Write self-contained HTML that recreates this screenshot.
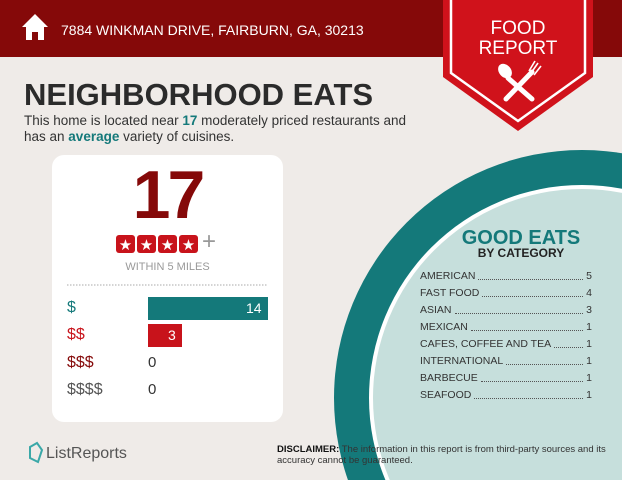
<!DOCTYPE html>
<html><head><style>
html,body{margin:0;width:622px;height:480px;overflow:hidden}
body{background:#efebe8;font-family:"Liberation Sans",sans-serif;position:relative}
.abs{position:absolute}
</style></head><body>
<svg class="abs" style="left:0;top:0" width="622" height="480">
<rect x="0" y="0" width="622" height="57" fill="#850909"/>
<circle cx="582" cy="398" r="248" fill="#14797a"/>
<circle cx="582" cy="398" r="213" fill="#fff"/>
<circle cx="582" cy="398" r="209" fill="#c6dfdc"/>
<polygon points="443,0 593,0 593,77 518,131 443,77" fill="#d0121b"/>
<polyline points="451,0 451,73 518,121 585,73 585,0" fill="none" stroke="#fff" stroke-width="2.5"/>
<g stroke="#fff" stroke-width="5" stroke-linecap="round">
<line x1="508" y1="78" x2="532" y2="99"/>
<line x1="532" y1="72" x2="506" y2="99"/>
</g>
<ellipse cx="505" cy="71" rx="6" ry="8" fill="#fff" transform="rotate(-40 505 71)"/>
<g stroke="#fff" stroke-width="1.6"><line x1="531" y1="73" x2="538" y2="63"/><line x1="534" y1="75" x2="541" y2="66"/><line x1="529" y1="71" x2="535" y2="61"/></g>
<path d="M22 27 L35 14 L48 27 L44 27 L44 40 L38 40 L38 32 L32 32 L32 40 L26 40 L26 27Z" fill="#fff"/>
<rect x="52" y="155" width="231" height="267" rx="12" fill="#fff"/>
<line x1="67" y1="285" x2="268" y2="285" stroke="#aaa" stroke-dasharray="1.5,1.5"/>
<rect x="148" y="297" width="120" height="23" fill="#14797a"/>
<rect x="148" y="324" width="34" height="23" fill="#c8131b"/>
<g fill="#c8131b">
<rect x="116" y="235" width="19" height="18" rx="3"/><rect x="137" y="235" width="19" height="18" rx="3"/><rect x="158" y="235" width="19" height="18" rx="3"/><rect x="179" y="235" width="19" height="18" rx="3"/>
</g>
<g fill="#fff" font-size="15" text-anchor="middle"><text x="125.5" y="250">★</text><text x="146.5" y="250">★</text><text x="167.5" y="250">★</text><text x="188.5" y="250">★</text></g>
<path d="M30 447 L37 443 L42 450 L38 462 L30 458Z" fill="none" stroke="#3aa8a8" stroke-width="2"/>
</svg>
<div class="abs" style="left:61px;top:22px;color:#fff;font-size:14px">7884 WINKMAN DRIVE, FAIRBURN, GA, 30213</div>
<div class="abs" style="left:443px;top:19px;width:150px;text-align:center;color:#fff;font-size:19px;line-height:20px">FOOD<br>REPORT</div>
<div class="abs" style="left:24px;top:77px;color:#2b2b2b;font-size:31px;font-weight:bold">NEIGHBORHOOD EATS</div>
<div class="abs" style="left:24px;top:113px;color:#333;font-size:13.5px;line-height:16px">This home is located near <b style="color:#14797a">17</b> moderately priced restaurants and<br>has an <b style="color:#14797a">average</b> variety of cuisines.</div>
<div class="abs" style="left:52px;top:160px;width:231px;text-align:center;color:#850909;font-size:68px;font-weight:bold;line-height:70px;letter-spacing:-3px">17</div>
<div class="abs" style="left:202px;top:228px;color:#999;font-size:24px">+</div>
<div class="abs" style="left:52px;top:261px;width:231px;text-align:center;color:#999;font-size:11px">WITHIN 5 MILES</div>
<div class="abs" style="left:67px;top:299px;font-size:16px;color:#14797a">$</div>
<div class="abs" style="left:67px;top:326px;font-size:16px;color:#c8131b">$$</div>
<div class="abs" style="left:67px;top:354px;font-size:16px;color:#850909">$$$</div>
<div class="abs" style="left:67px;top:381px;font-size:16px;color:#555">$$$$</div>
<div class="abs" style="left:246px;top:300px;font-size:14px;color:#fff">14</div>
<div class="abs" style="left:168px;top:327px;font-size:14px;color:#fff">3</div>
<div class="abs" style="left:148px;top:354px;font-size:15px;color:#333">0</div>
<div class="abs" style="left:148px;top:381px;font-size:15px;color:#333">0</div>
<div class="abs" style="left:420px;top:227px;width:202px;text-align:center;color:#14797a;font-size:20px;font-weight:bold;line-height:22px">GOOD EATS</div>
<div class="abs" style="left:420px;top:246px;width:202px;text-align:center;color:#222;font-size:12px;font-weight:bold">BY CATEGORY</div>
<div class="abs" style="left:420px;top:268px;width:172px;font-size:10.5px;color:#333;line-height:17px">
<div style="display:flex"><span>AMERICAN</span><span style="flex:1;border-bottom:1px dotted #555;margin:0 3px 5px"></span><span>5</span></div>
<div style="display:flex"><span>FAST FOOD</span><span style="flex:1;border-bottom:1px dotted #555;margin:0 3px 5px"></span><span>4</span></div>
<div style="display:flex"><span>ASIAN</span><span style="flex:1;border-bottom:1px dotted #555;margin:0 3px 5px"></span><span>3</span></div>
<div style="display:flex"><span>MEXICAN</span><span style="flex:1;border-bottom:1px dotted #555;margin:0 3px 5px"></span><span>1</span></div>
<div style="display:flex"><span>CAFES, COFFEE AND TEA</span><span style="flex:1;border-bottom:1px dotted #555;margin:0 3px 5px"></span><span>1</span></div>
<div style="display:flex"><span>INTERNATIONAL</span><span style="flex:1;border-bottom:1px dotted #555;margin:0 3px 5px"></span><span>1</span></div>
<div style="display:flex"><span>BARBECUE</span><span style="flex:1;border-bottom:1px dotted #555;margin:0 3px 5px"></span><span>1</span></div>
<div style="display:flex"><span>SEAFOOD</span><span style="flex:1;border-bottom:1px dotted #555;margin:0 3px 5px"></span><span>1</span></div>
</div>
<div class="abs" style="left:46px;top:445px;font-size:16px;color:#555">ListReports</div>
<div class="abs" style="left:277px;top:444px;font-size:9.5px;color:#333;line-height:11px">
<b style="color:#111">DISCLAIMER:</b> The information in this report is from third-party sources and its<br>accuracy cannot be guaranteed.</div>
</body></html>
